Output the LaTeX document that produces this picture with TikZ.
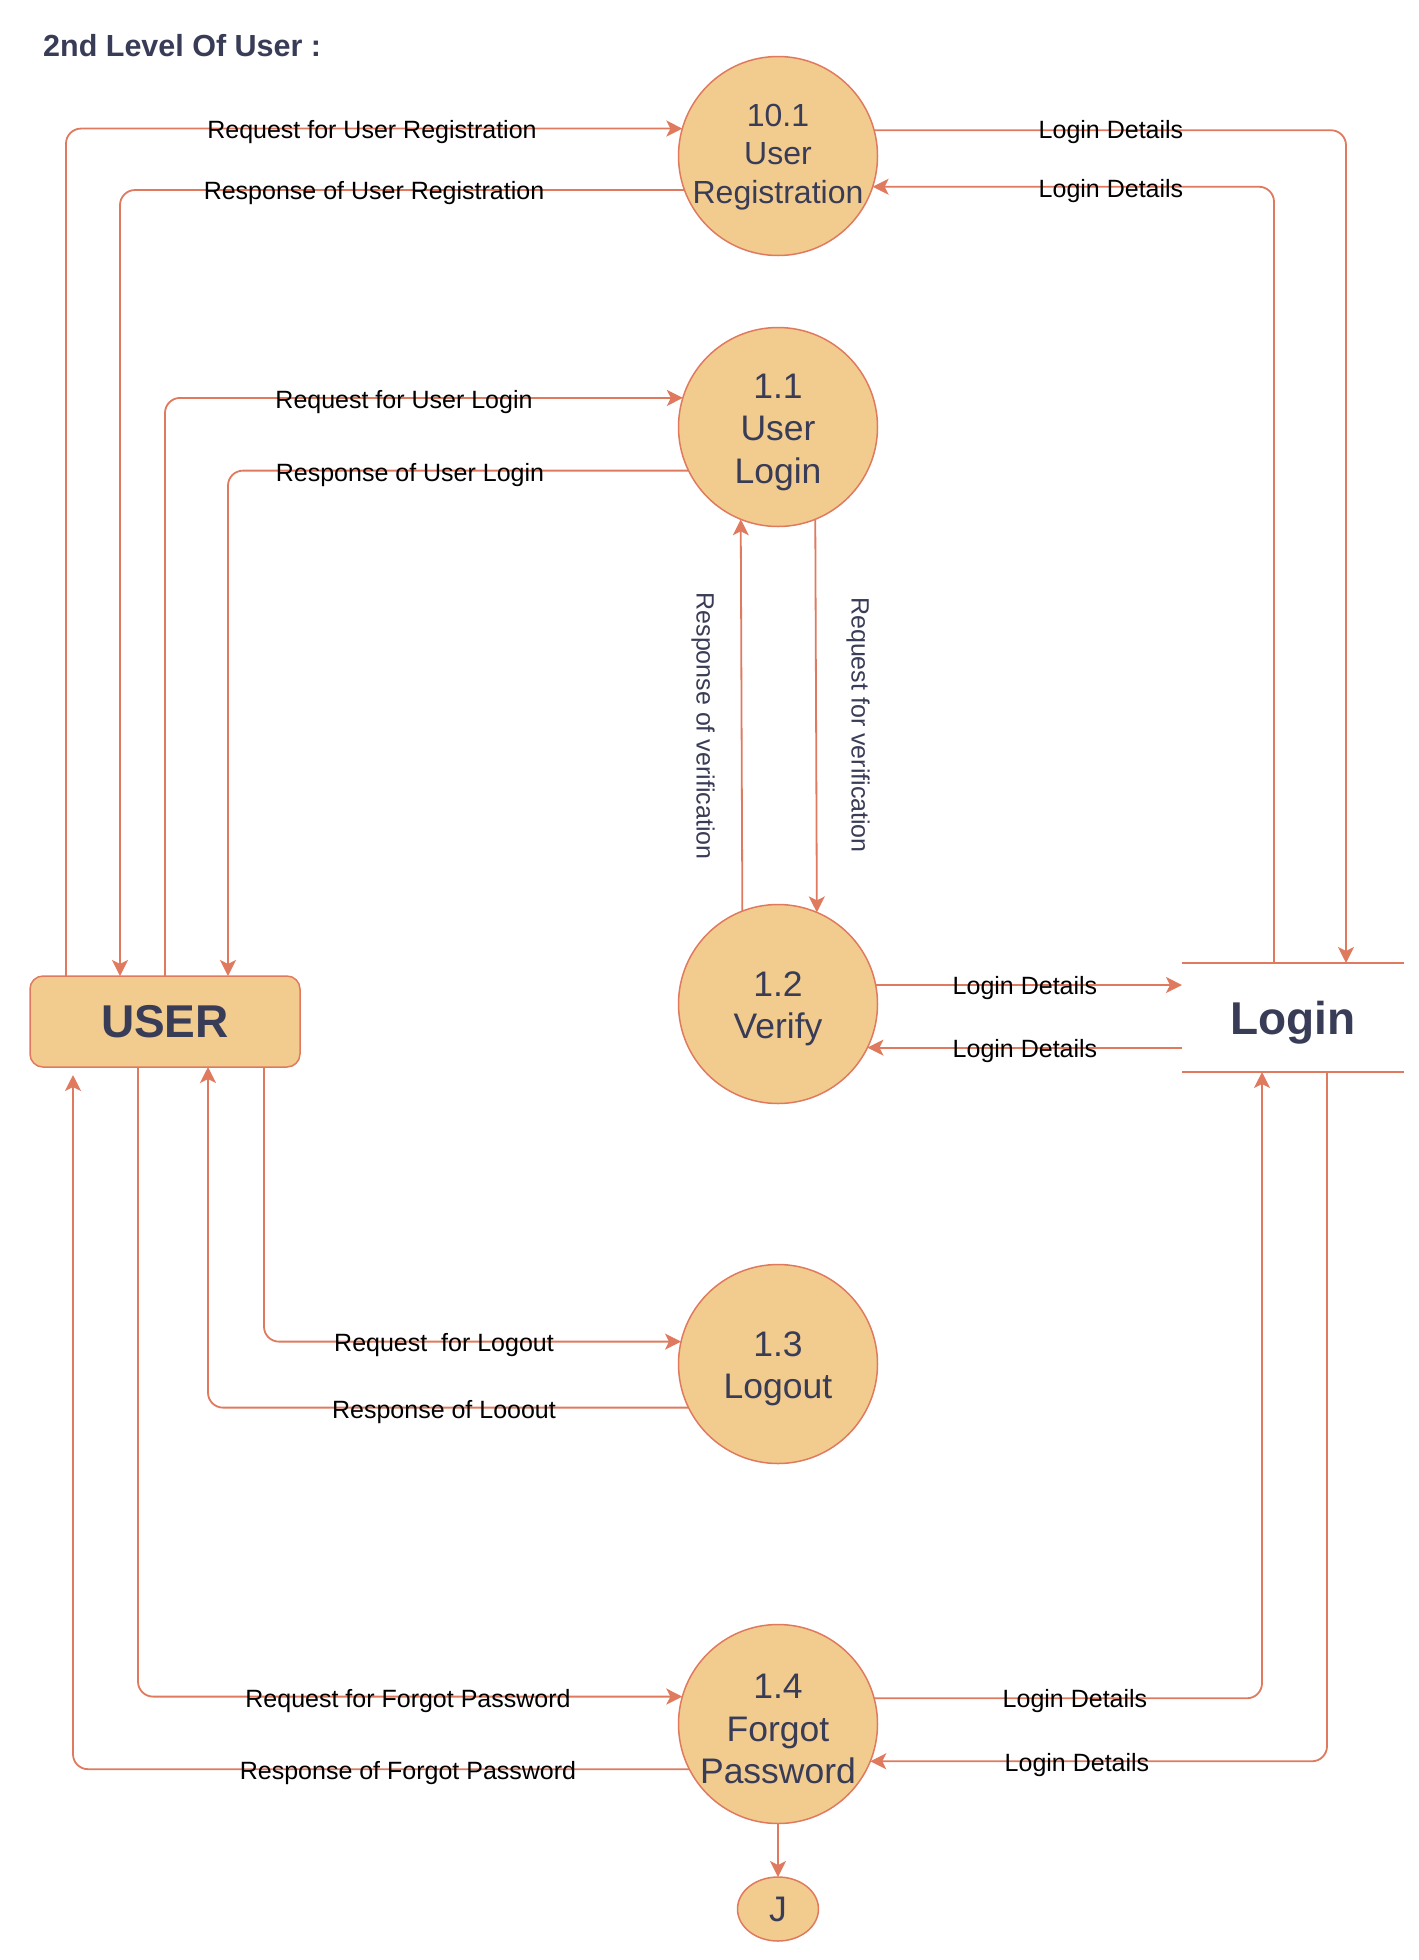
\documentclass[tikz,border=0pt]{standalone}
\usepackage{fontspec}
\setmainfont{Liberation Sans}
\usetikzlibrary{arrows.meta,calc,shapes.geometric}
\definecolor{pfill}{HTML}{F2CC8F}
\definecolor{pline}{HTML}{E07A5F}
\definecolor{ptext}{HTML}{393C56}
\begin{document}
\begin{tikzpicture}[x=1pt,y=-1pt,
  proc/.style={circle, draw=pline, fill=pfill, line width=1.5pt, minimum size=199pt, inner sep=0pt, outer sep=0pt},
  ptxt/.style={text=ptext, align=center, font=\fontsize{35.5}{42.5}\selectfont, inner sep=0pt, yshift=-5pt},
  flow/.style={draw=pline, line width=1.8pt, rounded corners=15pt, -{Stealth[length=16pt,width=16pt,inset=4pt]}},
  flowplain/.style={draw=pline, line width=1.8pt, rounded corners=15pt},
  lbl/.style={font=\fontsize{25}{30}\selectfont, text=black, anchor=base, yshift=-9pt, inner sep=0pt},
  vlbl/.style={font=\fontsize{25}{30}\selectfont, text=ptext, rotate=-90, inner sep=0pt},
  bigtxt/.style={font=\bfseries\fontsize{46}{55}\selectfont, text=ptext, text depth=0pt},
]
\fill[white] (0,0) rectangle (1419,1960);
\useasboundingbox (0,0) rectangle (1419,1960);

% title
\node[anchor=base west, font=\bfseries\fontsize{30.5}{37}\selectfont, text=ptext, inner sep=0pt] (title) at (43,56) {2nd Level Of User :};

% processes
\node[proc] (c101) at (778,156) {};
\node[ptxt, font=\fontsize{32}{38.5}\selectfont, yshift=4pt] (t101) at (c101) {10.1\\User\\Registration};
\node[proc] (c11) at (778,427) {};
\node[ptxt] (t11) at (c11) {1.1\\User\\Login};
\node[proc] (c12) at (778,1004) {};
\node[ptxt] (t12) at (c12) {1.2\\Verify};
\node[proc] (c13) at (778,1364) {};
\node[ptxt] (t13) at (c13) {1.3\\Logout};
\node[proc] (c14) at (778,1724) {};
\node[ptxt] (t14) at (c14) {1.4\\Forgot\\Password};
\node[ellipse, draw=pline, fill=pfill, line width=1.5pt, minimum width=81pt, minimum height=64pt, inner sep=0pt, outer sep=0pt, text=ptext, font=\fontsize{35.5}{42.5}\selectfont] (j) at (778,1909) {J};

% external entity
\node[draw=pline, fill=pfill, line width=1.5pt, rounded corners=13pt, minimum width=270pt, minimum height=91pt, inner sep=0pt, outer sep=0pt, bigtxt] (user) at (165,1021.5) {USER};

% data store
\node[minimum width=222pt, minimum height=109pt, inner sep=0pt, outer sep=0pt, bigtxt] (login) at (1293,1017.5) {Login};
\draw[flowplain] (login.north west) -- (login.north east);
\draw[flowplain] (login.south west) -- (login.south east);

% registration
\draw[flow] ([xshift=36pt]user.north west) |- (c101.164.25);
\draw[flow] (c101.200) -| ([xshift=90pt]user.north west);
\draw[flow] (c101.15.75) -| ([xshift=164pt]login.north west);
\draw[flow] ([xshift=92pt]login.north west) |- (c101.-18.75);
\node[lbl] (l1) at (372,129) {Request for User Registration};
\node[lbl] (l2) at (374,190) {Response of User Registration};
\node[lbl] (l3) at (1111,129) {Login Details};
\node[lbl] (l4) at (1111,188) {Login Details};

% login
\draw[flow] ([xshift=135pt]user.north west) |- (c11.163.66);
\draw[flow] (c11.206.9) -| ([xshift=198pt]user.north west);
\node[lbl] (l5) at (404,399) {Request for User Login};
\node[lbl] (l6) at (410,472) {Response of User Login};

% verification
\draw[flow] (c12.111.2) -- (c11.248.8);
\draw[flow] (c11.292.45) -- (c12.67.55);
\node[vlbl] (l7) at (703,726) {Response of verification};
\node[vlbl] (l8) at (858,725) {Request for verification};

% verify <-> login store
\draw[flow] (c12.11) -- (c12.11 -| login.west);
\draw[flow] (c12.-26.25 -| login.west) -- (c12.-26.25);
\node[lbl] (l9) at (1025,985) {Login Details};
\node[lbl] (l10) at (1025,1048) {Login Details};

% logout
\draw[flow] ([xshift=234pt]user.south west) |- (c13.167.2);
\draw[flow] (c13.206.9) -| ([xshift=178pt]user.south west);
\node[lbl] (l11) at (444,1342) {Request\ \ for Logout};
\node[lbl] (l12) at (444,1409) {Response of Looout};

% forgot password
\draw[flow] ([xshift=108pt]user.south west) |- (c14.164.85);
\draw[flow] (c14.207.5) -| ([xshift=43pt,yshift=-8pt]user.south west);
\draw[flow] (c14.15.15) -| ([xshift=80pt]login.south west);
\draw[flow] ([xshift=145pt]login.south west) |- (c14.-22.45);
\node[lbl] (l13) at (408,1698) {Request for Forgot Password};
\node[lbl] (l14) at (408,1770) {Response of Forgot Password};
\node[lbl] (l15) at (1075,1698) {Login Details};
\node[lbl] (l16) at (1077,1762) {Login Details};

% to J
\draw[flow] (c14.south) -- (j.north);
\end{tikzpicture}
\end{document}
